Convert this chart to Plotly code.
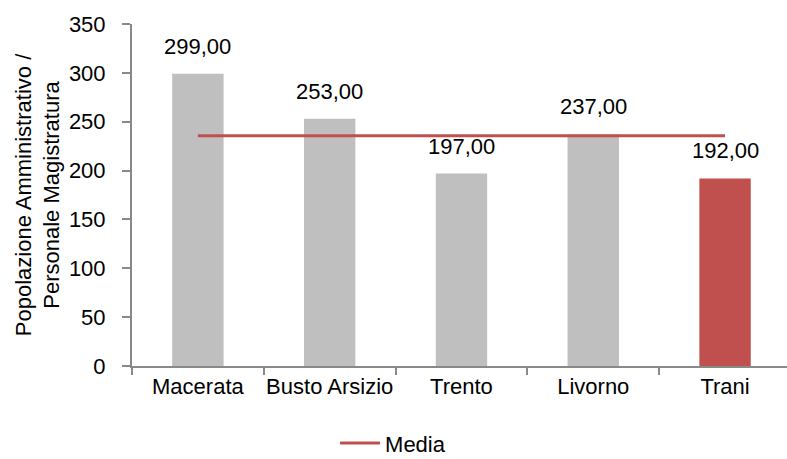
import plotly.graph_objects as go

categories = ["Macerata", "Busto Arsizio", "Trento", "Livorno", "Trani"]
values = [299, 253, 197, 237, 192]
bar_colors = ["#BFBFBF", "#BFBFBF", "#BFBFBF", "#BFBFBF", "#C0504D"]
media_value = sum(values) / len(values)
y_ticks = [0, 50, 100, 150, 200, 250, 300, 350]

FONT = "Liberation Sans, Arial, sans-serif"
FS = 22
fig = go.Figure()
fig.add_trace(go.Bar(
    x=categories, y=values, marker=dict(color=bar_colors, line=dict(width=0)),
    width=0.39, showlegend=False, hoverinfo="skip",
))
fig.add_trace(go.Scatter(
    x=categories, y=[media_value] * len(categories), mode="lines",
    line=dict(color="#C0504D", width=3), name="Media",
))
for c, v in zip(categories, values):
    fig.add_annotation(
        x=c, y=v, text=f"{v:.2f}".replace(".", ","), showarrow=False,
        yanchor="bottom", yshift=13, font=dict(size=FS, color="#000000", family=FONT),
    )

fig.update_layout(
    width=787, height=459,
    margin=dict(l=132, r=0, t=24, b=93, autoexpand=False),
    paper_bgcolor="white", plot_bgcolor="white",
    font=dict(family=FONT, size=FS, color="#000000"),
    legend=dict(orientation="h", x=0.31, y=-0.287, xanchor="left", yanchor="bottom",
                font=dict(size=FS), itemwidth=40, borderwidth=0),
)
fig.update_xaxes(
    range=[-0.5, 4.47], showline=True, linecolor="#898989", linewidth=2,
    ticks="outside", tickson="boundaries", ticklen=7, tickcolor="#898989", tickwidth=2,
    showgrid=False, tickfont=dict(size=FS), fixedrange=True, automargin=False,
    tickangle=0,
)
fig.update_yaxes(
    range=[0, 350], tickvals=y_ticks, showline=True, linecolor="#898989", linewidth=2,
    ticks="outside", ticklen=8, tickcolor="#898989", tickwidth=2, showgrid=False,
    zeroline=False, tickfont=dict(size=FS), ticklabelstandoff=12, automargin=False,
    title=dict(text="Popolazione Amministrativo /<br>Personale Magistratura",
               font=dict(size=FS), standoff=3),
)
fig.write_html("out.html", config={"displayModeBar": False},
               post_script="document.body.style.margin='0';")
